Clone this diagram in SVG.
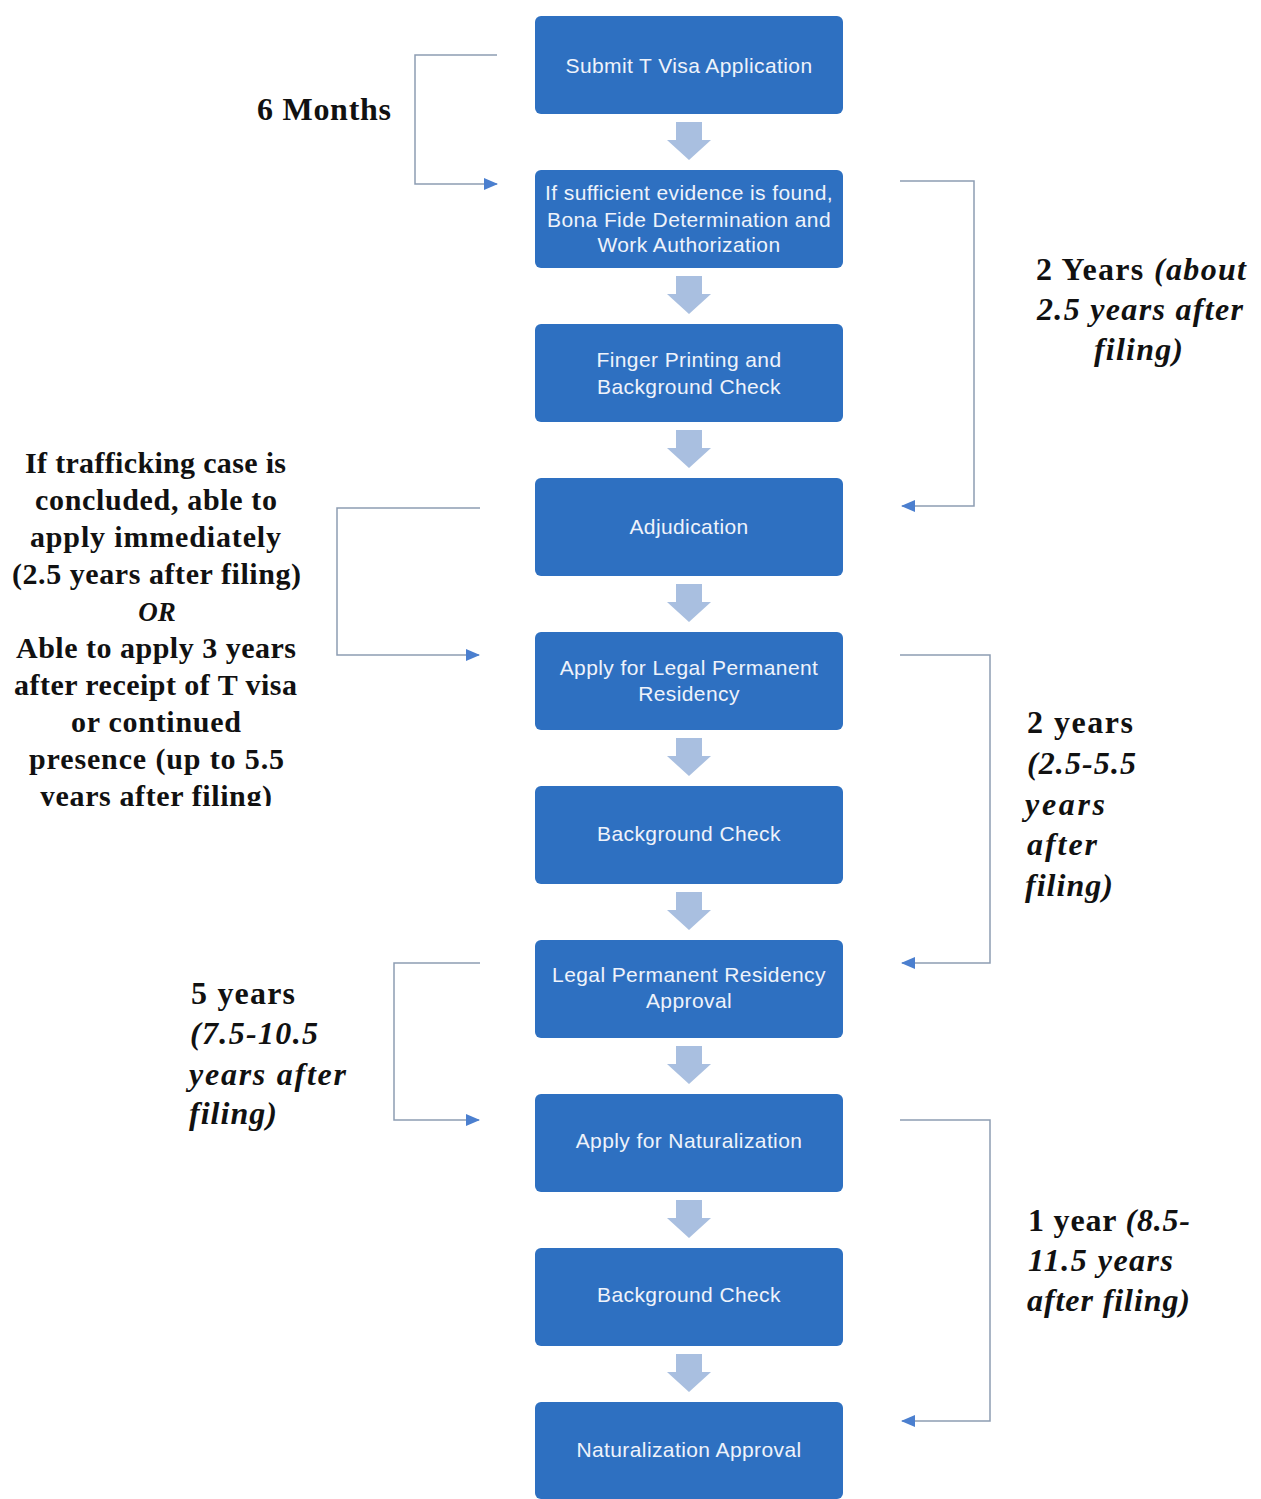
<svg xmlns="http://www.w3.org/2000/svg" width="1261" height="1499" viewBox="0 0 1261 1499">
<defs>
<style>
.box{fill:#2e70c1;}
.bt{font-family:"Liberation Sans",Arial,sans-serif;font-size:21px;letter-spacing:0.4px;fill:#eef3fb;text-anchor:middle;}
.da{fill:#a9bfe0;}
.con{fill:none;stroke:#8d9db3;stroke-width:1.5;}
.lb{font-family:"Liberation Serif","Times New Roman",serif;font-weight:bold;font-size:32px;fill:#111;}
.sm{font-size:30px;}
.it{font-style:italic;}
</style>
<marker id="ah" viewBox="0 0 14 12" refX="13" refY="6" markerWidth="14" markerHeight="12" markerUnits="userSpaceOnUse" orient="auto">
<path d="M0,0 L14,6 L0,12 Z" fill="#4b7fcf"/>
</marker>
<clipPath id="clipL"><rect x="0" y="440" width="330" height="366"/></clipPath>
</defs>
<rect width="1261" height="1499" fill="#ffffff"/>

<g id="connectors">
<g id="block-arrows">
<path class="da" d="M676,122 H702 V140 H711 L689,160 L667,140 H676 Z"/>
<path class="da" d="M676,276 H702 V294 H711 L689,314 L667,294 H676 Z"/>
<path class="da" d="M676,430 H702 V448 H711 L689,468 L667,448 H676 Z"/>
<path class="da" d="M676,584 H702 V602 H711 L689,622 L667,602 H676 Z"/>
<path class="da" d="M676,738 H702 V756 H711 L689,776 L667,756 H676 Z"/>
<path class="da" d="M676,892 H702 V910 H711 L689,930 L667,910 H676 Z"/>
<path class="da" d="M676,1046 H702 V1064 H711 L689,1084 L667,1064 H676 Z"/>
<path class="da" d="M676,1200 H702 V1218 H711 L689,1238 L667,1218 H676 Z"/>
<path class="da" d="M676,1354 H702 V1372 H711 L689,1392 L667,1372 H676 Z"/>
</g>
<path class="con" d="M497,55 H415 V184 H497" marker-end="url(#ah)"/>
<path class="con" d="M900,181 H974 V506 H902" marker-end="url(#ah)"/>
<path class="con" d="M480,508 H337 V655 H479" marker-end="url(#ah)"/>
<path class="con" d="M900,655 H990 V963 H902" marker-end="url(#ah)"/>
<path class="con" d="M480,963 H394 V1120 H479" marker-end="url(#ah)"/>
<path class="con" d="M900,1120 H990 V1421 H902" marker-end="url(#ah)"/>
</g>

<g id="n1"><rect class="box" x="535" y="16" width="308" height="98" rx="6"/><text class="bt" x="689" y="73">Submit T Visa Application</text></g>
<g id="n2"><rect class="box" x="535" y="170" width="308" height="98" rx="6"/><text class="bt" x="689" y="200">If sufficient evidence is found,</text><text class="bt" x="689" y="227">Bona Fide Determination and</text><text class="bt" x="689" y="252">Work Authorization</text></g>
<g id="n3"><rect class="box" x="535" y="324" width="308" height="98" rx="6"/><text class="bt" x="689" y="367">Finger Printing and</text><text class="bt" x="689" y="394">Background Check</text></g>
<g id="n4"><rect class="box" x="535" y="478" width="308" height="98" rx="6"/><text class="bt" x="689" y="534">Adjudication</text></g>
<g id="n5"><rect class="box" x="535" y="632" width="308" height="98" rx="6"/><text class="bt" x="689" y="675">Apply for Legal Permanent</text><text class="bt" x="689" y="701">Residency</text></g>
<g id="n6"><rect class="box" x="535" y="786" width="308" height="98" rx="6"/><text class="bt" x="689" y="841">Background Check</text></g>
<g id="n7"><rect class="box" x="535" y="940" width="308" height="98" rx="6"/><text class="bt" x="689" y="982">Legal Permanent Residency</text><text class="bt" x="689" y="1008">Approval</text></g>
<g id="n8"><rect class="box" x="535" y="1094" width="308" height="98" rx="6"/><text class="bt" x="689" y="1148">Apply for Naturalization</text></g>
<g id="n9"><rect class="box" x="535" y="1248" width="308" height="98" rx="6"/><text class="bt" x="689" y="1302">Background Check</text></g>
<g id="n10"><rect class="box" x="535" y="1402" width="308" height="97" rx="6"/><text class="bt" x="689" y="1457">Naturalization Approval</text></g>

<g id="labels">
<text class="lb" x="257" y="120" textLength="134" lengthAdjust="spacing">6 Months</text>
<text class="lb" x="1036" y="280" textLength="210" lengthAdjust="spacing">2 Years <tspan class="it">(about</tspan></text>
<text class="lb it" x="1037" y="320" textLength="206" lengthAdjust="spacing">2.5 years after</text>
<text class="lb it" x="1094" y="360" textLength="89" lengthAdjust="spacing">filing)</text>
<g clip-path="url(#clipL)">
<text class="lb sm" x="25" y="473" textLength="261" lengthAdjust="spacing">If trafficking case is</text>
<text class="lb sm" x="35" y="510" textLength="242" lengthAdjust="spacing">concluded, able to</text>
<text class="lb sm" x="30" y="547" textLength="251" lengthAdjust="spacing">apply immediately</text>
<text class="lb sm" x="12" y="584" textLength="289" lengthAdjust="spacing">(2.5 years after filing)</text>
<text class="lb sm it" x="157" y="621" text-anchor="middle" style="font-size:27px">OR</text>
<text class="lb sm" x="16" y="658" textLength="280" lengthAdjust="spacing">Able to apply 3 years</text>
<text class="lb sm" x="14" y="695" textLength="283" lengthAdjust="spacing">after receipt of T visa</text>
<text class="lb sm" x="71" y="732" textLength="170" lengthAdjust="spacing">or continued</text>
<text class="lb sm" x="29" y="769" textLength="255" lengthAdjust="spacing">presence (up to 5.5</text>
<text class="lb sm" x="40" y="806" textLength="232" lengthAdjust="spacing">years after filing)</text>
</g>
<text class="lb" x="1027" y="733" textLength="106" lengthAdjust="spacing">2 years</text>
<text class="lb it" x="1027" y="774" textLength="109" lengthAdjust="spacing">(2.5-5.5</text>
<text class="lb it" x="1025" y="815" textLength="80" lengthAdjust="spacing">years</text>
<text class="lb it" x="1027" y="855" textLength="70" lengthAdjust="spacing">after</text>
<text class="lb it" x="1025" y="896" textLength="88" lengthAdjust="spacing">filing)</text>
<text class="lb" x="191" y="1004" textLength="104" lengthAdjust="spacing">5 years</text>
<text class="lb it" x="190" y="1044" textLength="128" lengthAdjust="spacing">(7.5-10.5</text>
<text class="lb it" x="189" y="1085" textLength="157" lengthAdjust="spacing">years after</text>
<text class="lb it" x="189" y="1124" textLength="88" lengthAdjust="spacing">filing)</text>
<text class="lb" x="1028" y="1231" textLength="162" lengthAdjust="spacing">1 year <tspan class="it">(8.5-</tspan></text>
<text class="lb it" x="1028" y="1271" textLength="145" lengthAdjust="spacing">11.5 years</text>
<text class="lb it" x="1027" y="1311" textLength="163" lengthAdjust="spacing">after filing)</text>
</g>
</svg>
